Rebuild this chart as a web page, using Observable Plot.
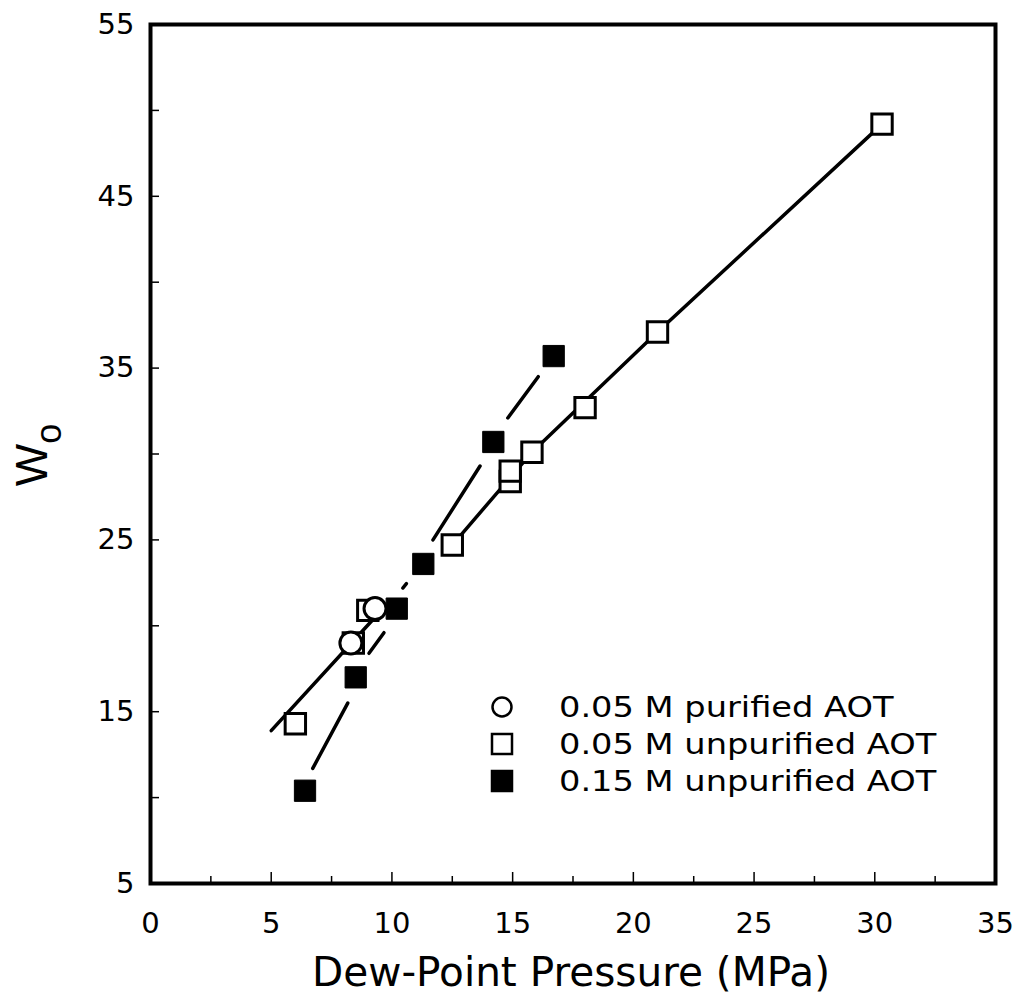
<!DOCTYPE html>
<html><head><meta charset="utf-8">
<script src="https://cdn.jsdelivr.net/npm/d3@7"></script>
<script src="https://cdn.jsdelivr.net/npm/@observablehq/plot@0.6"></script>
<style>body{margin:0;background:#fff;} #chart svg{display:block;}</style>
</head><body><div id="chart"></div>
<script>
// Data
const purified05 = [ {x: 8.3, y: 19.0}, {x: 9.3, y: 21.0} ];
const unpurified05 = [
  {x: 6.0, y: 14.3}, {x: 8.4, y: 19.0}, {x: 9.0, y: 20.9}, {x: 12.5, y: 24.7},
  {x: 14.9, y: 28.4}, {x: 14.9, y: 29.0}, {x: 15.8, y: 30.1}, {x: 18.0, y: 32.7},
  {x: 21.0, y: 37.1}, {x: 30.3, y: 49.2}
];
const unpurified15 = [
  {x: 6.4, y: 10.4}, {x: 8.5, y: 17.0}, {x: 10.2, y: 21.0}, {x: 11.3, y: 23.6},
  {x: 14.2, y: 30.7}, {x: 16.7, y: 35.7}
];
// hand-drawn trend curves (segments as drawn in the figure)
const fit05 = [
  {seg: "a", x: 5.0, y: 13.9}, {seg: "a", x: 9.3, y: 20.5},
  {seg: "b", x: 12.5, y: 24.7}, {seg: "b", x: 15.8, y: 30.1},
  {seg: "b", x: 21.0, y: 37.1}, {seg: "b", x: 30.3, y: 49.2}
];
const fit15 = [
  {seg: 1, x: 6.72, y: 11.7}, {seg: 1, x: 8.17, y: 15.5},
  {seg: 2, x: 9.05, y: 18.4}, {seg: 2, x: 9.67, y: 19.6},
  {seg: 3, x: 10.45, y: 22.2}, {seg: 3, x: 10.6, y: 22.45},
  {seg: 4, x: 11.7, y: 25.0}, {seg: 4, x: 13.65, y: 29.3},
  {seg: 5, x: 14.8, y: 32.1}, {seg: 5, x: 16.06, y: 34.5}
];
const xTicks = [0, 5, 10, 15, 20, 25, 30, 35];
const xMinor = [2.5, 7.5, 12.5, 17.5, 22.5, 27.5, 32.5];
const yTicks = [5, 15, 25, 35, 45, 55];
const yMinor = [10, 20, 30, 40, 50];
const legendLabels = ["0.05 M purified AOT", "0.05 M unpurified AOT", "0.15 M unpurified AOT"];
const xLabel = "Dew-Point Pressure (MPa)";

const font = "'DejaVu Sans', 'Liberation Sans', sans-serif";
const plot = Plot.plot({
  width: 1020, height: 1001,
  marginLeft: 150, marginRight: 25, marginTop: 24, marginBottom: 118,
  style: {fontFamily: font, background: "#fff", color: "#000"},
  x: {domain: [0, 35]},
  y: {domain: [5, 55]},
  marks: [
    Plot.axisX({ticks: xTicks, tickSize: -11, text: null, label: null, strokeWidth: 1.5}),
    Plot.axisX({ticks: xMinor, tickSize: -7, text: null, label: null, strokeWidth: 1.5}),
    Plot.axisX({ticks: xTicks, tickSize: 0, tickPadding: 29, fontSize: 29, label: null, tickFormat: d => String(d)}),
    Plot.axisY({ticks: yTicks, tickSize: -9, text: null, label: null, strokeWidth: 1.5}),
    Plot.axisY({ticks: yMinor, tickSize: -9, text: null, label: null, strokeWidth: 1.5}),
    Plot.axisY({ticks: yTicks, tickSize: 0, tickPadding: 16, fontSize: 29, label: null, tickFormat: d => String(d)}),
    Plot.line(fit05, {x: "x", y: "y", z: "seg", stroke: "#000", strokeWidth: 3.5}),
    Plot.line(fit15, {x: "x", y: "y", z: "seg", stroke: "#000", strokeWidth: 3.5}),
    Plot.dot(unpurified05, {x: "x", y: "y", symbol: "square", r: 11.5, fill: "#fff", stroke: "#000", strokeWidth: 3}),
    Plot.dot(unpurified15, {x: "x", y: "y", symbol: "square", r: 12, fill: "#000", stroke: "#000", strokeWidth: 1}),
    Plot.dot(purified05, {x: "x", y: "y", symbol: "circle", r: 11, fill: "#fff", stroke: "#000", strokeWidth: 3}),
    Plot.frame({stroke: "#000", strokeWidth: 4})
  ]
});
document.getElementById("chart").appendChild(plot);

const svg = d3.select(plot);
// x label
svg.append("text").attr("x", 571).attr("y", 986).attr("text-anchor", "middle")
  .attr("font-family", font).attr("font-size", 40).attr("fill", "#000")
  .attr("textLength", 518).attr("lengthAdjust", "spacingAndGlyphs").text(xLabel);
// y label W_o
const yl = svg.append("text").attr("transform", "translate(47,455) rotate(-90)")
  .attr("text-anchor", "middle").attr("font-family", "'Liberation Sans', Arial, sans-serif").attr("font-size", 45).attr("fill", "#000");
yl.append("tspan").text("W");
yl.append("tspan").attr("dy", 14).attr("font-size", 36).text("o");
// legend
const lg = svg.append("g").attr("font-family", font).attr("font-size", 29).attr("text-anchor", "start");
const rows = [707, 744, 781];
legendLabels.forEach((t, i) => {
  const cy = rows[i];
  if (i === 0) lg.append("circle").attr("cx", 502).attr("cy", cy).attr("r", 9.5).attr("fill", "#fff").attr("stroke", "#000").attr("stroke-width", 2.5);
  else lg.append("rect").attr("x", 492).attr("y", cy - 10).attr("width", 20).attr("height", 20)
    .attr("fill", i === 2 ? "#000" : "#fff").attr("stroke", "#000").attr("stroke-width", 2.5);
  const tx = lg.append("text").attr("x", 559).attr("y", cy + 10).attr("fill", "#000").text(t);
  const w = tx.node().getComputedTextLength();
  if (w > 0) tx.attr("textLength", w * 1.16).attr("lengthAdjust", "spacingAndGlyphs");
});
</script>
</body></html>
